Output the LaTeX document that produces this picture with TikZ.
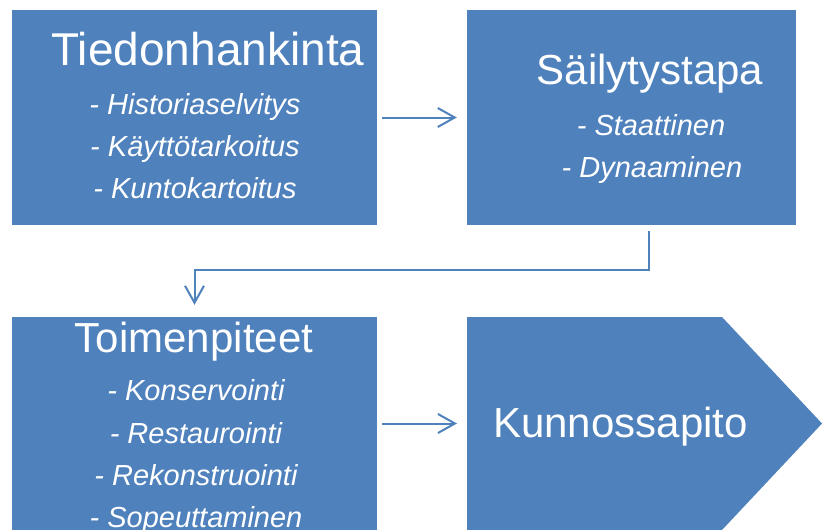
\documentclass[tikz,border=0pt]{standalone}
\usepackage{fontspec}
\setmainfont{Liberation Sans}
\usetikzlibrary{arrows.meta, positioning, calc}
\definecolor{laatikko}{RGB}{79,129,189}

\tikzset{
	blok/.style={fill=laatikko, draw=none, inner sep=0pt},
	otsikko/.style={text=white, anchor=base, inner sep=0pt, font=\fontsize{42}{50}\selectfont},
	kohta/.style={text=white, anchor=base, inner sep=0pt, font=\fontsize{29}{35}\selectfont\itshape},
	nuoli/.style={draw=laatikko, line width=2pt, -{Straight Barb[length=17pt,width=19pt]}}
}

\begin{document}
\begin{tikzpicture}[x=1pt, y=-1pt]
		\useasboundingbox (0,0) rectangle (822,530);
		
		% laatikot
		\draw (194.5,117.5) node[blok, minimum width=365pt, minimum height=215pt] (tied) {}
		(631.5,117.5) node[blok, minimum width=329pt, minimum height=215pt] (sail) {}
		(194.5,423.5) node[blok, minimum width=365pt, minimum height=213pt] (toim) {};
		\fill[laatikko] (467,317) -- (722,317) -- (822,423.5) -- (722,530) -- (467,530) -- cycle;
		\coordinate (kunn) at (467,423.5);
		
		% tekstit
		\draw (208,65) node[otsikko, font=\fontsize{46}{54}\selectfont] (t0) {Tiedonhankinta}
		(195,114) node[kohta] (t1) {- Historiaselvitys}
		(195,156) node[kohta] (t2) {- Käyttötarkoitus}
		(195,198) node[kohta] (t3) {- Kuntokartoitus}
		(650,84) node[otsikko] (s0) {Säilytystapa}
		(651,135) node[kohta] (s1) {- Staattinen}
		(652,177) node[kohta] (s2) {- Dynaaminen}
		(194,352) node[otsikko] (p0) {Toimenpiteet}
		(196,400) node[kohta] (p1) {- Konservointi}
		(196,443) node[kohta] (p2) {- Restaurointi}
		(196,485) node[kohta] (p3) {- Rekonstruointi}
		(196,527) node[kohta] (p4) {- Sopeuttaminen}
		(620.5,437) node[otsikko] (k0) {Kunnossapito};
		
		\draw[nuoli, shorten <=5pt, shorten >=10pt] (tied.east) -- (sail.west);
		\draw[nuoli, shorten <=6pt, shorten >=12pt] ([xshift=17.5pt]sail.south) |- ([yshift=47pt]toim.north) -- (toim.north);
		\draw[nuoli, shorten <=5pt, shorten >=10pt] (toim.east) -- (kunn);
	\end{tikzpicture}
\end{document}
